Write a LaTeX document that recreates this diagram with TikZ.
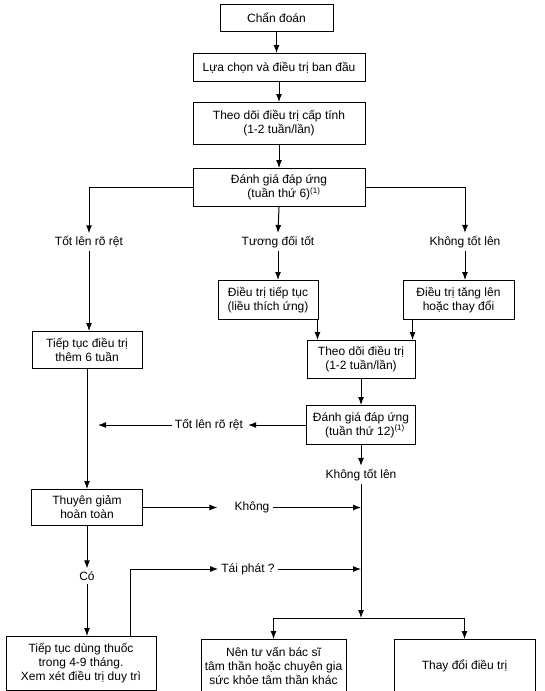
\documentclass[tikz,border=0pt]{standalone}
\usepackage{fontspec}
\setmainfont{Liberation Sans}
\usepackage{tikz}
\usetikzlibrary{calc,arrows.meta,positioning}

\tikzset{
  box/.style={draw,line width=1pt,align=center,inner sep=2pt,font=\fontsize{12}{14}\selectfont},
  lbl/.style={inner sep=3pt,font=\fontsize{12}{14}\selectfont},
  flow/.style={line width=1pt,-{Latex[length=8pt,width=6pt]}},
}

\begin{document}
\begin{tikzpicture}[x=1pt,y=1pt]
  \useasboundingbox (0,0) rectangle (544,-691);

  % Start
  \path (276.5,-4)                node[box,anchor=north,minimum width=113,minimum height=27] (diag) {Chẩn đoán};
  \path (diag.south) +(2.5,-21)   node[box,anchor=north,minimum width=172,minimum height=28] (select) {Lựa chọn và điều trị ban đầu};
  \path (select.south) +(0,-20)   node[box,anchor=north,minimum width=172,minimum height=42] (monitor) {Theo dõi điều trị cấp tính\\(1-2 tuần/lần)};
  \path (monitor.south) +(0,-23)  node[box,anchor=north,minimum width=172,minimum height=38] (assess6) {Đánh giá đáp ứng\\\hspace*{10pt}(tuần thứ 6)\textsuperscript{(1)}};
  \draw[flow] (diag.south) -- (diag.south |- select.north);
  \draw[flow] (select) -- (monitor);
  \draw[flow] (monitor) -- (assess6);

  % First response
  \path (assess6.south) +(-1,-35) node[lbl] (fair) {Tương đối tốt};
  \path (fair) +(-189,0)          node[lbl] (better1) {Tốt lên rõ rệt};
  \path (fair) +(187,0)           node[lbl] (notbetter1) {Không tốt lên};
  \draw[flow] (assess6.west) -| (better1.north);
  \draw[flow] (assess6.east) -| (notbetter1.north);
  \draw[flow] (assess6.south) -- (fair.north);

  % Adjust
  \path (assess6.south) +(-11,-73) node[box,anchor=north,minimum width=100,minimum height=39] (cont) {Điều trị tiếp tục\\(liều thích ứng)};
  \path (cont.north) +(190.5,0)    node[box,anchor=north,minimum width=111,minimum height=39] (change) {Điều trị tăng lên\\hoặc thay đổi};
  \draw[flow] (fair.south) -- (fair.south |- cont.north);
  \draw[flow] (notbetter1.south) -- (notbetter1.south |- change.north);

  \path (cont.south) +(93,-20)       node[box,anchor=north,minimum width=108,minimum height=38] (monitor2) {Theo dõi điều trị\\(1-2 tuần/lần)};
  \path (monitor2.south) +(0,-26)    node[box,anchor=north,minimum width=109,minimum height=39] (assess12) {Đánh giá đáp ứng\\\hspace*{8pt}(tuần thứ 12)\textsuperscript{(1)}};
  \coordinate (m2l) at ($(monitor2.north west)+(11,0)$);
  \coordinate (m2r) at ($(monitor2.north east)+(-3,0)$);
  \draw[flow] (m2l |- cont.south) -- (m2l);
  \draw[flow] (m2r |- change.south) -- (m2r);
  \draw[flow] (monitor2) -- (assess12);

  % Second response
  \path (assess12.west) +(-97,0)  node[lbl] (better2) {Tốt lên rõ rệt};
  \path (assess12.south) +(0,-30) node[lbl] (notbetter2) {Không tốt lên};
  \draw[flow,shorten >=2pt] (assess12.west) -- (better2.east);
  \draw[flow] (assess12.south) -- (notbetter2.north);
  \coordinate (join) at ($(notbetter2.center)+(0,-143)$);
  \draw[flow] (notbetter2.south) -- (join);

  % Left column
  \path (better1.south |- cont.south) +(-2,-11) node[box,anchor=north,minimum width=110,minimum height=37] (six) {Tiếp tục điều trị\\thêm 6 tuần};
  \draw[flow] (better1.south) -- (better1.south |- six.north);
  \coordinate (b2end) at ($(six.south |- better2)+(11,0)$);
  \draw[flow] (better2.west) -- (b2end);

  \path (six.south) +(0,-120)     node[box,anchor=north,minimum width=111,minimum height=36] (remit) {Thuyên giảm\\hoàn toàn};
  \draw[flow] (six.south) -- (six.south |- remit.north);
  \path (remit.east) +(109,0)     node[lbl] (no) {Không};
  \draw[flow,shorten >=14pt] (remit.east) -- (no.west);
  \draw[flow] (no.east) -- (no.east -| join);

  \path (remit.south) +(0,-50)    node[lbl] (yes) {Có};
  \draw[flow] (remit.south) -- (yes.north);
  \path (remit.south) +(-6,-110)  node[box,anchor=north,minimum width=150,minimum height=54] (maint) {Tiếp tục dùng thuốc\\trong 4-9 tháng.\\Xem xét điều trị duy trì};
  \draw[flow] (yes.south) -- (yes.south |- maint.north);

  \path (yes) +(161,7)            node[lbl] (relapse) {Tái phát ?};
  \coordinate (relup) at ($(maint.north)+(49,0)$);
  \draw[flow] (relup) |- (relapse.west);
  \draw[flow] (relapse.east) -- (relapse.east -| join);

  % Outcome
  \path (join) +(-87.5,-21)       node[box,anchor=north,minimum width=145,minimum height=52] (refer) {Nên tư vấn bác sĩ\\tâm thần hoặc chuyên gia\\sức khỏe tâm thần khác};
  \path (refer.north) +(191,0)    node[box,anchor=north,minimum width=141,minimum height=52] (other) {Thay đổi điều trị};
  \draw[flow] (join) -| (refer.north);
  \draw[flow] (join) -| (other.north);

\end{tikzpicture}
\end{document}
